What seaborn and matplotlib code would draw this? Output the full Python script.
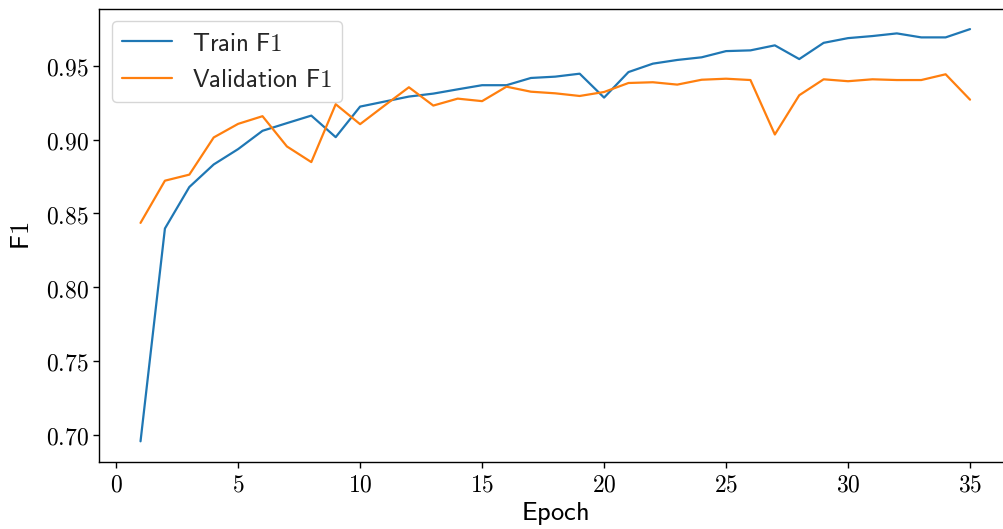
import matplotlib
matplotlib.use("Agg")
import matplotlib.pyplot as plt
from matplotlib.ticker import FuncFormatter
import pandas as pd
import seaborn as sns

epochs = list(range(1, 36))
train_f1 = [0.6955, 0.8397, 0.8678, 0.8831, 0.8935, 0.9059, 0.9111, 0.9162, 0.9016, 0.9223,
            0.9257, 0.9291, 0.9311, 0.9340, 0.9368, 0.9368, 0.9417, 0.9426, 0.9446, 0.9284,
            0.9457, 0.9514, 0.9539, 0.9557, 0.9599, 0.9604, 0.9638, 0.9545, 0.9655, 0.9687,
            0.9701, 0.9719, 0.9692, 0.9692, 0.9748]
val_f1 = [0.8435, 0.8721, 0.8762, 0.9014, 0.9106, 0.9158, 0.8953, 0.8847, 0.9239, 0.9104,
          0.9230, 0.9354, 0.9230, 0.9277, 0.9260, 0.9358, 0.9324, 0.9313, 0.9295, 0.9322,
          0.9383, 0.9388, 0.9372, 0.9405, 0.9412, 0.9403, 0.9034, 0.9300, 0.9408, 0.9395,
          0.9408, 0.9403, 0.9403, 0.9442, 0.9270]
series_labels = [r"$\mathsf{Train\ F1}$", r"$\mathsf{Validation\ F1}$"]

sns.set_theme(style="ticks", rc={"axes.grid": False})
plt.rcParams["mathtext.fontset"] = "cm"
plt.rcParams["font.family"] = ["DejaVu Sans"]

df = pd.DataFrame({
    "Epoch": epochs * 2,
    "F1": train_f1 + val_f1,
    "Series": [series_labels[0]] * len(epochs) + [series_labels[1]] * len(epochs),
})

fig = plt.figure(figsize=(10.035, 5.295), dpi=100)
# the frame runs a little past the right edge of the canvas
ax = fig.add_axes([99 / 1003, 67 / 529, 912 / 1003, 453 / 529])

sns.lineplot(data=df, x="Epoch", y="F1", hue="Series", palette=["#1f77b4", "#ff7f0e"],
             linewidth=1.6, ax=ax)

ax.set_xticks([0, 5, 10, 15, 20, 25, 30, 35])
ax.set_yticks([0.70, 0.75, 0.80, 0.85, 0.90, 0.95])
ax.xaxis.set_major_formatter(FuncFormatter(lambda v, p: f"${v:.0f}$"))
ax.yaxis.set_major_formatter(FuncFormatter(lambda v, p: f"${v:.2f}$"))
ax.tick_params(axis="both", labelsize=17, colors="black", length=4, width=1)
for s in ax.spines.values():
    s.set_color("black")
    s.set_linewidth(1.0)

ax.set_xlabel(r"$\mathsf{Epoch}$", fontsize=19, color="black", labelpad=2)
ax.set_ylabel(r"$\mathsf{F1}$", fontsize=19, color="black", labelpad=8)

leg = ax.legend(loc="upper left", fontsize=18, frameon=True, fancybox=True, framealpha=0.8,
                title=None, handlelength=2.0)
leg.get_frame().set_edgecolor("#cccccc")

fig.savefig("out.png", dpi=100)
